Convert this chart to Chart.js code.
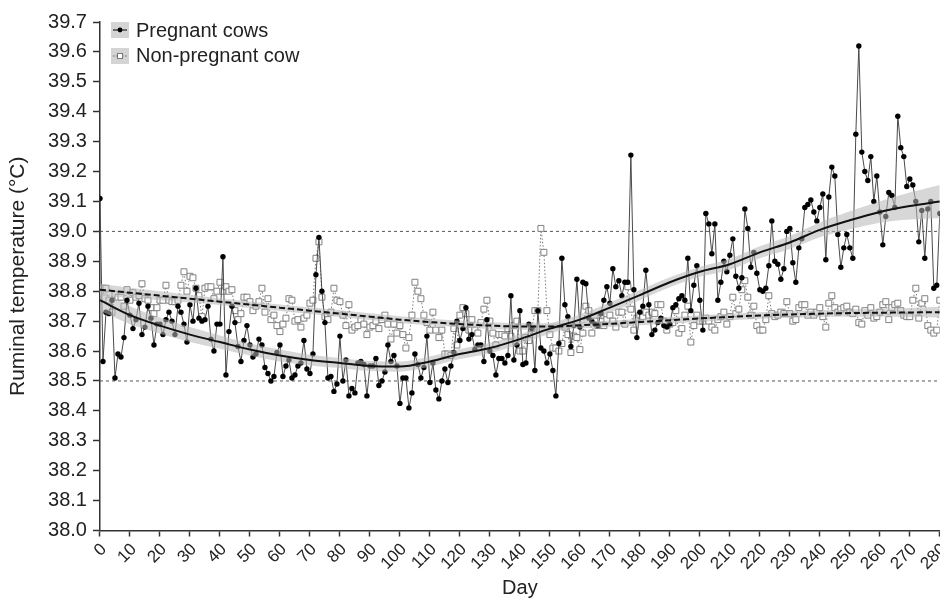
<!DOCTYPE html>
<html><head><meta charset="utf-8">
<script src="https://cdn.jsdelivr.net/npm/chart.js@4/dist/chart.umd.min.js"></script>
<style>html,body{margin:0;padding:0;background:#fff;overflow:hidden;width:940px;height:599px}</style>
</head><body>
<canvas id="c" width="945" height="599"></canvas>
<script>
// ---------- data ----------
const days = Array.from({length: 281}, (_, i) => i);
const pregnant = [
39.11,38.565,38.73,38.725,38.77,38.51,38.59,38.58,38.645,38.77,
38.72,38.675,38.705,38.76,38.655,38.68,38.75,38.71,38.62,38.69,
38.69,38.655,38.705,38.73,38.70,38.655,38.75,38.73,38.69,38.63,
38.755,38.70,38.81,38.71,38.70,38.705,38.75,38.64,38.60,38.69,
38.69,38.915,38.52,38.665,38.75,38.695,38.615,38.565,38.635,38.685,
38.62,38.58,38.59,38.64,38.62,38.545,38.525,38.50,38.515,38.595,
38.62,38.515,38.55,38.57,38.51,38.52,38.55,38.56,38.635,38.54,
38.525,38.59,38.855,38.98,38.80,38.695,38.51,38.515,38.465,38.49,
38.65,38.50,38.57,38.45,38.475,38.46,38.56,38.565,38.555,38.45,
38.55,38.55,38.575,38.485,38.50,38.53,38.62,38.565,38.585,38.55,
38.425,38.51,38.51,38.41,38.46,38.59,38.555,38.51,38.545,38.65,
38.495,38.56,38.47,38.44,38.50,38.54,38.495,38.55,38.595,38.70,
38.635,38.675,38.745,38.64,38.655,38.605,38.62,38.62,38.565,38.705,
38.60,38.585,38.52,38.575,38.575,38.56,38.585,38.785,38.57,38.62,
38.735,38.555,38.56,38.69,38.675,38.535,38.735,38.61,38.60,38.56,
38.59,38.535,38.45,38.625,38.91,38.755,38.715,38.615,38.685,38.84,
38.68,38.83,38.825,38.71,38.70,38.69,38.685,38.725,38.77,38.815,
38.76,38.875,38.815,38.835,38.785,38.83,38.83,39.255,38.805,38.645,
38.73,38.75,38.87,38.755,38.655,38.67,38.695,38.71,38.685,38.68,
38.69,38.745,38.755,38.775,38.785,38.77,38.91,38.735,38.82,38.885,
38.77,38.67,39.06,39.025,38.925,39.025,38.77,38.83,38.90,38.865,
38.92,38.975,38.85,38.81,38.845,39.075,39.01,38.88,38.93,38.86,
38.805,38.80,38.81,38.885,39.035,38.90,38.89,38.84,38.875,39.00,
39.01,38.895,38.83,38.945,38.975,39.08,39.09,39.105,39.065,39.035,
39.08,39.125,38.905,39.115,39.215,39.185,38.99,38.88,38.945,38.99,
38.945,38.91,39.325,39.62,39.265,39.20,39.17,39.25,39.10,39.185,
39.065,38.955,39.05,39.13,39.12,39.08,39.385,39.28,39.25,39.15,
39.175,39.155,39.10,38.965,39.07,38.91,39.075,39.10,38.81,38.82,
39.06];
const nonPregnant = [
38.80,38.81,38.81,38.77,38.73,38.79,38.78,38.78,38.75,38.805,
38.77,38.795,38.78,38.785,38.825,38.775,38.77,38.745,38.725,38.745,
38.77,38.77,38.82,38.77,38.765,38.765,38.77,38.82,38.865,38.80,
38.85,38.845,38.81,38.785,38.715,38.81,38.815,38.815,38.775,38.80,
38.83,38.80,38.815,38.80,38.805,38.735,38.705,38.725,38.78,38.78,
38.765,38.735,38.75,38.765,38.81,38.73,38.775,38.705,38.72,38.685,
38.665,38.69,38.71,38.775,38.77,38.70,38.705,38.68,38.71,38.72,
38.76,38.77,38.91,38.965,38.78,38.715,38.705,38.73,38.81,38.77,
38.765,38.72,38.685,38.755,38.67,38.68,38.685,38.705,38.69,38.655,
38.68,38.685,38.70,38.675,38.705,38.72,38.69,38.64,38.69,38.66,
38.685,38.655,38.61,38.645,38.72,38.83,38.80,38.775,38.72,38.695,
38.67,38.73,38.67,38.645,38.67,38.59,38.59,38.585,38.675,38.62,
38.72,38.745,38.725,38.67,38.705,38.67,38.66,38.695,38.74,38.77,
38.70,38.66,38.62,38.655,38.655,38.65,38.675,38.65,38.685,38.70,
38.60,38.60,38.645,38.635,38.675,38.735,38.735,39.01,38.93,38.735,
38.655,38.61,38.61,38.60,38.625,38.68,38.655,38.595,38.65,38.645,
38.605,38.66,38.75,38.735,38.66,38.70,38.685,38.72,38.685,38.705,
38.72,38.70,38.68,38.73,38.73,38.69,38.815,38.74,38.67,38.71,
38.72,38.715,38.73,38.72,38.73,38.725,38.755,38.755,38.70,38.67,
38.69,38.695,38.735,38.66,38.675,38.72,38.75,38.63,38.685,38.72,
38.70,38.70,38.71,38.70,38.68,38.67,38.705,38.715,38.73,38.69,
38.715,38.78,38.725,38.74,38.805,38.835,38.78,38.72,38.75,38.685,
38.67,38.67,38.705,38.785,38.725,38.715,38.72,38.73,38.725,38.765,
38.725,38.70,38.705,38.745,38.755,38.755,38.72,38.73,38.72,38.73,
38.745,38.715,38.68,38.76,38.785,38.745,38.73,38.74,38.745,38.75,
38.73,38.725,38.74,38.695,38.69,38.735,38.72,38.745,38.71,38.715,
38.73,38.755,38.765,38.705,38.745,38.755,38.76,38.735,38.72,38.715,
38.715,38.77,38.81,38.71,38.76,38.775,38.685,38.67,38.66,38.67,
38.77];

// smoothed trends with their grey confidence bands
const trendDays  = [0,10,20,30,40,50,60,70,80,90,100,110,120,130,140,150,160,170,180,190,200,210,220,230,240,250,260,270,280];
const pregTrend  = [38.77,38.72,38.685,38.655,38.63,38.605,38.585,38.57,38.56,38.55,38.548,38.565,38.59,38.61,38.64,38.675,38.705,38.745,38.787,38.83,38.865,38.89,38.93,38.963,39.005,39.037,39.065,39.085,39.10];
const pregLower  = [38.735,38.69,38.658,38.63,38.608,38.585,38.565,38.552,38.543,38.533,38.531,38.548,38.573,38.593,38.623,38.658,38.688,38.728,38.77,38.813,38.848,38.872,38.91,38.941,38.98,39.007,39.029,39.04,39.045];
const pregUpper  = [38.805,38.75,38.712,38.68,38.652,38.625,38.605,38.588,38.577,38.567,38.565,38.582,38.607,38.627,38.657,38.692,38.722,38.762,38.804,38.847,38.882,38.908,38.95,38.985,39.03,39.067,39.101,39.13,39.155];
const nonTrend   = [38.805,38.795,38.785,38.775,38.765,38.755,38.745,38.735,38.725,38.715,38.705,38.697,38.69,38.685,38.682,38.682,38.686,38.691,38.697,38.703,38.709,38.714,38.719,38.722,38.725,38.727,38.728,38.729,38.73];
const nonLower   = [38.785,38.778,38.77,38.762,38.754,38.744,38.734,38.724,38.714,38.704,38.694,38.686,38.679,38.674,38.671,38.671,38.675,38.68,38.686,38.692,38.698,38.703,38.708,38.711,38.714,38.715,38.715,38.714,38.712];
const nonUpper   = [38.825,38.812,38.80,38.788,38.776,38.766,38.756,38.746,38.736,38.726,38.716,38.708,38.701,38.696,38.693,38.693,38.697,38.702,38.708,38.714,38.72,38.725,38.73,38.733,38.736,38.739,38.741,38.744,38.748];

const refLines = [38.5, 39.0];
const xTicks = [0,10,20,30,40,50,60,70,80,90,100,110,120,130,140,150,160,170,180,190,200,210,220,230,240,250,260,270,280];
const yTicks = [38.0,38.1,38.2,38.3,38.4,38.5,38.6,38.7,38.8,38.9,39.0,39.1,39.2,39.3,39.4,39.5,39.6,39.7];
const seriesNames = ['Pregnant cows', 'Non-pregnant cow'];
const dayRange = [0, 280];

// ---------- helpers ----------
const pts = (xs, ys) => xs.map((x, i) => ({x, y: ys[i]}));
const FONT = "'Liberation Sans', Arial, Helvetica, sans-serif";
Chart.defaults.font.family = FONT;
Chart.defaults.color = '#222';

const BAND = 'rgba(183,183,183,0.55)';

const refSets = refLines.map(v => ({
  label: 'ref' + v,
  data: [{x: dayRange[0], y: v}, {x: dayRange[1], y: v}],
  borderColor: '#555', borderWidth: 1, borderDash: [3, 3],
  pointRadius: 0, fill: false, order: 20
}));

const datasets = [
  ...refSets,
  {
    label: seriesNames[1], data: pts(days, nonPregnant),
    borderColor: '#7a7a7a', borderWidth: 1, borderDash: [1.5, 2],
    pointStyle: 'rect', pointRadius: 4.2, pointBackgroundColor: '#fff',
    pointBorderColor: '#808080', pointBorderWidth: 1, fill: false, order: 12
  },
  {
    label: seriesNames[0], data: pts(days, pregnant),
    borderColor: '#4a4a4a', borderWidth: 1,
    pointStyle: 'circle', pointRadius: 2.7, pointBackgroundColor: '#000',
    pointBorderWidth: 0, fill: false, order: 11
  },
  { label: 'nonLo', data: pts(trendDays, nonLower), borderWidth: 0, pointRadius: 0, fill: false, cubicInterpolationMode: 'monotone', order: 6 },
  { label: 'nonHi', data: pts(trendDays, nonUpper), borderWidth: 0, pointRadius: 0, fill: '-1', backgroundColor: BAND, cubicInterpolationMode: 'monotone', order: 6 },
  { label: 'pregLo', data: pts(trendDays, pregLower), borderWidth: 0, pointRadius: 0, fill: false, cubicInterpolationMode: 'monotone', order: 5 },
  { label: 'pregHi', data: pts(trendDays, pregUpper), borderWidth: 0, pointRadius: 0, fill: '-1', backgroundColor: BAND, cubicInterpolationMode: 'monotone', order: 5 },
  { label: 'nonTrend', data: pts(trendDays, nonTrend), borderColor: '#111', borderWidth: 2, borderDash: [6, 3], pointRadius: 0, fill: false, cubicInterpolationMode: 'monotone', order: 1 },
  { label: 'pregTrend', data: pts(trendDays, pregTrend), borderColor: '#111', borderWidth: 2, pointRadius: 0, fill: false, cubicInterpolationMode: 'monotone', order: 0 }
];

// legend icons (grey key boxes with a line + marker)
function makeIcon(kind) {
  const c = document.createElement('canvas');
  c.width = 18; c.height = 16;
  const g = c.getContext('2d');
  g.fillStyle = '#d4d4d4'; g.fillRect(0, 0, 18, 16);
  g.strokeStyle = kind === 0 ? '#222' : '#666';
  g.lineWidth = 1.2;
  if (kind === 1) g.setLineDash([1.5, 1.5]);
  g.beginPath(); g.moveTo(2, 8); g.lineTo(16, 8); g.stroke();
  g.setLineDash([]);
  if (kind === 0) {
    g.fillStyle = '#000'; g.beginPath(); g.arc(9, 8, 2.4, 0, Math.PI * 2); g.fill();
  } else {
    g.fillStyle = '#fff'; g.fillRect(6.5, 5.5, 5, 5);
    g.strokeStyle = '#777'; g.lineWidth = 1; g.strokeRect(6.5, 5.5, 5, 5);
  }
  return c;
}
const icons = [makeIcon(0), makeIcon(1)];

const insideLegend = {
  id: 'insideLegend',
  afterDraw(chart) {
    const {ctx, chartArea: a} = chart;
    ctx.save();
    ctx.font = '20px ' + FONT;
    ctx.fillStyle = '#222';
    ctx.textBaseline = 'middle';
    ctx.textAlign = 'left';
    seriesNames.forEach((name, i) => {
      const cy = a.top + 8 + i * 25.5;
      ctx.drawImage(icons[i], a.left + 11, Math.round(cy - 8));
      ctx.fillText(name, a.left + 36, cy + 1);
    });
    ctx.restore();
  }
};

new Chart(document.getElementById('c'), {
  type: 'line',
  data: { datasets },
  plugins: [insideLegend],
  options: {
    responsive: false,
    animation: false,
    devicePixelRatio: 1,
    layout: { padding: { left: 0, right: 0, top: 22, bottom: 0 } },
    plugins: { legend: { display: false }, tooltip: { enabled: false } },
    elements: { line: { tension: 0 } },
    scales: {
      x: {
        type: 'linear', min: dayRange[0], max: dayRange[1],
        afterBuildTicks: s => { s.ticks = xTicks.map(v => ({value: v})); },
        afterFit: s => { s.paddingRight = 0; },
        ticks: { autoSkip: false, maxRotation: 45, minRotation: 45, font: { size: 17 }, color: '#222', padding: 3, labelOffset: 4 },
        grid: { drawOnChartArea: false, tickLength: 6, tickColor: '#333', tickWidth: 1.5 },
        border: { color: '#333', width: 1.5 },
        title: { display: true, text: 'Day', font: { size: 20, lineHeight: 1.1 }, color: '#222', padding: { top: 0, bottom: 0 } }
      },
      y: {
        type: 'linear', min: yTicks[0], max: yTicks[yTicks.length - 1],
        afterBuildTicks: s => { s.ticks = yTicks.map(v => ({value: v})); },
        ticks: { autoSkip: false, font: { size: 20 }, color: '#222', padding: 6, callback: v => Number(v).toFixed(1) },
        grid: { drawOnChartArea: false, tickLength: 7, tickColor: '#333', tickWidth: 1.5 },
        border: { color: '#333', width: 1.5 },
        title: { display: true, text: 'Ruminal temperature (°C)', font: { size: 21, lineHeight: 1.05 }, color: '#222', padding: { top: 7, bottom: 13 } }
      }
    }
  }
});
</script>
</body></html>
